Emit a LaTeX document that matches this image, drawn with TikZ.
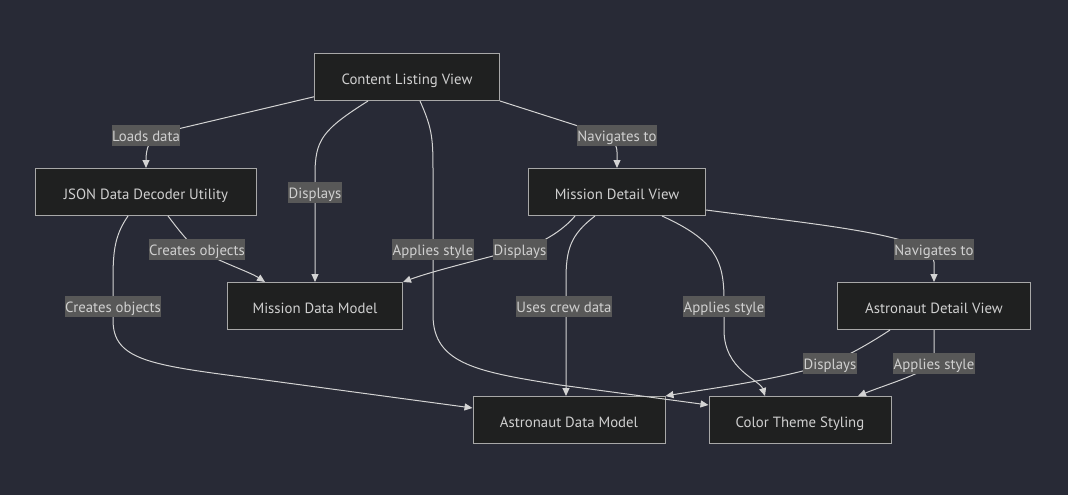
\documentclass[tikz,border=0pt]{standalone}
\usepackage{fontspec}
\setmainfont{PT Sans}
\usetikzlibrary{arrows.meta}

\definecolor{bgcol}{HTML}{282A36}
\definecolor{boxfill}{HTML}{1F2020}
\definecolor{boxline}{HTML}{A8A8A8}
\definecolor{lblfill}{HTML}{585858}
\definecolor{txtcol}{HTML}{D0D0D0}
\definecolor{edgecol}{HTML}{D3D3D3}

\begin{document}
\begin{tikzpicture}[x=1pt, y=-1pt,
    box/.style={rectangle, draw=boxline, fill=boxfill, line width=1pt, text=txtcol,
        minimum height=47pt, inner sep=0pt, text height=14.5pt, text depth=0pt,
        font=\fontsize{14.8}{17}\selectfont},
    lbl/.style={fill=lblfill, text=txtcol, inner xsep=0.5pt, inner ysep=0pt,
        text height=12.5pt, text depth=0pt, minimum height=21pt,
        font=\fontsize{14.8}{17}\selectfont},
    edge/.style={draw=edgecol, line width=1pt, -{Triangle[length=8pt, width=7pt]}}]

% Background
\fill[bgcol] (0,0) rectangle (1068,495);
\useasboundingbox (0,0) rectangle (1068,495);

% Views and models
\node[box, minimum width=185pt] (clv) at (407,77) {Content Listing View};
\node[box, minimum width=221pt] (json) at (146,192) {JSON Data Decoder Utility};
\node[box, minimum width=177pt] (mdv) at (617,192) {Mission Detail View};
\node[box, minimum width=175pt] (mdm) at (315,306) {Mission Data Model};
\node[box, minimum width=193pt] (adv) at (934,306) {Astronaut Detail View};
\node[box, minimum width=192pt] (adm) at (569,420) {Astronaut Data Model};
\node[box, minimum width=182pt] (cts) at (800,420) {Color Theme Styling};

% Connections
\draw[edge] (clv.192) -- (165,132) .. controls (148,137) and (146,150) .. (json.north);
\draw[edge] ([xshift=-39pt]clv.south) .. controls (322,130) and (315,140) .. (315,175) -- (mdm.north);
\draw[edge] ([xshift=13pt]clv.south) .. controls (433,130) and (433,140) .. (433,175) -- (433,315)
    .. controls (433,365) and (480,372) .. (560,385) -- ([yshift=15pt]cts.west);
\draw[edge] (clv.south east) -- (600,133) .. controls (612,136) and (617,145) .. (617,152) -- (mdv.north);
\draw[edge] ([xshift=22pt]json.south) .. controls (180,232) and (190,244) .. (197,249)
    .. controls (220,262) and (250,272) .. ([xshift=-50pt]mdm.north);
\draw[edge] ([xshift=-18pt]json.south) .. controls (115,235) and (113,250) .. (113,280) -- (113,320)
    .. controls (113,360) and (150,365) .. (250,378) -- ([yshift=12pt]adm.west);
\draw[edge] ([xshift=-42pt]mdv.south) .. controls (565,228) and (545,243) .. (520,249)
    .. controls (470,262) and (430,272) .. (mdm.north east);
\draw[edge] ([xshift=-22pt]mdv.south) .. controls (570,235) and (566,250) .. (566,280) -- ([xshift=-3pt]adm.north);
\draw[edge] ([xshift=45pt]mdv.south) .. controls (715,240) and (724,260) .. (724,300) -- (724,330)
    .. controls (724,370) and (760,380) .. ([xshift=-35pt]cts.north);
\draw[edge] ([yshift=-18pt]mdv.east) .. controls (820,225) and (934,235) .. (934,262) -- (adv.north);
\draw[edge] ([xshift=-44pt]adv.south) .. controls (875,340) and (850,355) .. (830,363)
    .. controls (780,380) and (700,390) .. (adm.north east);
\draw[edge] (adv.south) .. controls (934,345) and (934,355) .. (934,363)
    .. controls (920,375) and (885,385) .. ([xshift=58pt]cts.north);

% Edge labels
\foreach \n/\x/\y/\t in {1/146/135/Loads data, 2/315/192/Displays, 3/433/249/Applies style,
    4/617/135/Navigates to, 5/197/249/Creates objects, 6/113/306/Creates objects,
    7/520/249/Displays, 8/564/306/Uses crew data, 9/724/306/Applies style,
    10/934/249/Navigates to, 11/830/363/Displays, 12/934/363/Applies style} {
    \node[lbl] (l\n) at (\x,\y) {\t};
}

\end{tikzpicture}
\end{document}
